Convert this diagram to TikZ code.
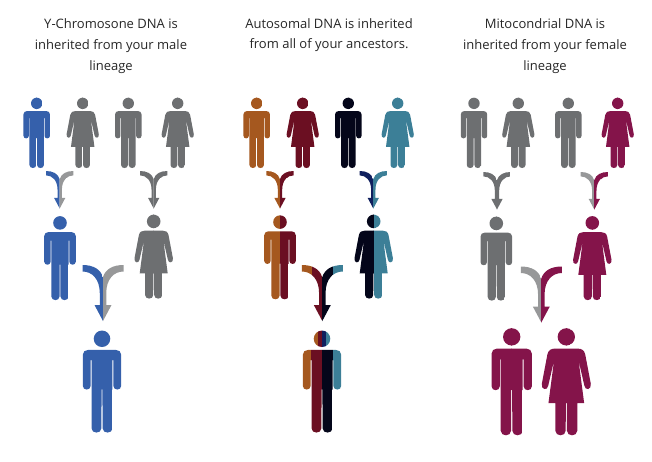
\documentclass[tikz,border=0pt]{standalone}
\usepackage{fontspec}
\setmainfont{Open Sans}
\definecolor{ablue}{HTML}{3560AB}
\definecolor{agrey}{HTML}{6D6F71}
\definecolor{lgrey}{HTML}{979899}
\definecolor{aorange}{HTML}{A5581F}
\definecolor{amaroon}{HTML}{6B0F22}
\definecolor{ablack}{HTML}{04061A}
\definecolor{anavy}{HTML}{10205E}
\definecolor{ateal}{HTML}{3C7F97}
\definecolor{acrimson}{HTML}{84144A}
\newcommand{\manhalf}{(-.6,39) -- (29,39) .. controls (35,39) and (39.5,43) .. (39.5,49) -- (39.5,113) .. controls (39.5,123) and (23.4,123) .. (23.4,113) -- (23.4,60) -- (21.6,60) -- (21.6,200) .. controls (21.6,212) and (1.2,212) .. (1.2,200) -- (.9,120) -- (-.6,120) -- cycle}
\newcommand{\womanhalf}{(-.6,39) -- (22,39) .. controls (30,39) and (35,42) .. (37,50) -- (48,108) .. controls (50,120) and (37,122) .. (35.5,112) -- (24,62) -- (35,146) -- (21.5,146) -- (21.5,200) .. controls (21.5,212) and (1.2,212) .. (1.2,200) -- (.9,146) -- (-.6,146) -- cycle}
\newcommand{\halfband}[4]{%
	\begin{scope}
		\clip #1;
		\fill[#2] (-1,30) rectangle (22,215);
		\fill[#3] (22,30) rectangle (60,215);
	\end{scope}
	\begin{scope}
		\clip (0,16) circle[radius=17];
		\fill[#4] (-1,-2) rectangle (9,36);
		\fill[#3] (9,-2) rectangle (20,36);
	\end{scope}}
\tikzset{
	bands/.code n args={5}{\def\bandA{#1}\def\bandB{#2}\def\bandC{#3}\def\bandD{#4}\def\bandH{#5}},
	onecol/.style={bands={#1}{#1}{#1}{#1}{#1}},
	twocol/.style 2 args={bands={#1}{#1}{#2}{#2}{#2}},
	arrowcols/.code n args={4}{\def\arrA{#1}\def\arrB{#2}\def\arrC{#3}\def\arrD{#4}},
	arrowone/.style={arrowcols={#1}{#1}{#1}{#1}},
	arrowtwo/.style 2 args={arrowcols={#1}{#1}{#2}{#2}},
	pics/manfig/.style={code={
		\halfband{\manhalf}{\bandC}{\bandD}{\bandH}
		\begin{scope}[xscale=-1]
			\halfband{\manhalf}{\bandB}{\bandA}{\bandB}
		\end{scope}
	}},
	pics/womanfig/.style={code={
		\halfband{\womanhalf}{\bandC}{\bandD}{\bandH}
		\begin{scope}[xscale=-1]
			\halfband{\womanhalf}{\bandB}{\bandA}{\bandB}
		\end{scope}
	}},
	pics/mergearrow/.style={code={
		\coordinate (-tip) at (0,112);
		\begin{scope}
			\clip (-.5,24) .. controls (-5,8) and (-20,0) .. (-41,0) -- (-41,13) .. controls (-22,13) and (-6.5,28) .. (-6.5,56) -- (-6.5,80) -- (-17,80) -- (-tip) -- (-.5,112) -- cycle;
			\fill[\arrB] (-21,-1) rectangle (0,113);
			\fill[\arrA] (-21,-1) rectangle (-42,113);
		\end{scope}
		\begin{scope}
			\clip (-.5,24) -- (0,24) .. controls (5,8) and (20,0) .. (41,0) -- (41,13) .. controls (22,13) and (6.5,28) .. (6.5,56) -- (6.5,80) -- (17,80) -- (-tip) -- (-.5,112) -- cycle;
			\fill[\arrC] (-1,-1) rectangle (21,113);
			\fill[\arrD] (21,-1) rectangle (42,113);
		\end{scope}
	}},
	caption/.style={align=center,font=\fontsize{13}{20.7}\selectfont,text=black!85},
}
\begin{document}
\begin{tikzpicture}[x=1pt,y=-1pt]
	\useasboundingbox (0,0) rectangle (652,462);
	\node[caption] (ycap) at (111,46) {Y-Chromosone DNA is\\inherited from your male\\lineage};
	\node[caption,anchor=north] (acap) at (329,14.8) {Autosomal DNA is inherited\\from all of your ancestors.};
	\node[caption] (mcap) at (545,46) {Mitocondrial DNA is\\inherited from your female\\lineage};

	% male line
	\pic[onecol=ablue,scale=.335] (y1) at (36.7,98) {manfig};
	\pic[onecol=agrey,scale=.335] (y2) at (82.7,98) {womanfig};
	\pic[onecol=agrey,scale=.335] (y3) at (128.3,98) {manfig};
	\pic[onecol=agrey,scale=.335] (y4) at (177.7,98) {womanfig};
	\pic[arrowtwo={ablue}{lgrey},scale=.335] (ya1) at (59.7,171) {mergearrow};
	\pic[arrowone=agrey,scale=.335] (ya2) at (153.7,171) {mergearrow};
	\pic[onecol=ablue,scale=.4] (y5) at (60,216.5) {manfig};
	\pic[onecol=agrey,scale=.4] (y6) at (153.7,215) {womanfig};
	\pic[arrowtwo={ablue}{lgrey},scale=.5] (ya3) at (103,265) {mergearrow};
	\pic[onecol=ablue,scale=.486] (y7) at (102,331) {manfig};

	% all lines
	\pic[onecol=aorange,scale=.335] (a1) at (256.7,98) {manfig};
	\pic[onecol=amaroon,scale=.335] (a2) at (302.7,98) {womanfig};
	\pic[onecol=ablack,scale=.335] (a3) at (348.3,98) {manfig};
	\pic[onecol=ateal,scale=.335] (a4) at (397.7,98) {womanfig};
	\pic[arrowtwo={aorange}{amaroon},scale=.335] (aa1) at (280,171) {mergearrow};
	\pic[arrowtwo={anavy}{ateal},scale=.335] (aa2) at (373.3,171) {mergearrow};
	\pic[twocol={aorange}{amaroon},scale=.4] (a5) at (280,215.7) {manfig};
	\pic[twocol={ablack}{ateal},scale=.4] (a6) at (373.7,215) {womanfig};
	\pic[arrowcols={aorange}{amaroon}{ablack}{ateal},scale=.5] (aa3) at (322.3,265) {mergearrow};
	\pic[bands={aorange}{amaroon}{ablack}{ateal}{anavy},scale=.486] (a7) at (322,331) {manfig};

	% female line
	\pic[onecol=agrey,scale=.335] (m1) at (474,98) {manfig};
	\pic[onecol=agrey,scale=.335] (m2) at (518.3,98) {womanfig};
	\pic[onecol=agrey,scale=.335] (m3) at (568.3,98) {manfig};
	\pic[onecol=acrimson,scale=.335] (m4) at (617.7,98) {womanfig};
	\pic[arrowone=agrey,scale=.335] (ma1) at (497,172) {mergearrow};
	\pic[arrowtwo={lgrey}{acrimson},scale=.335] (ma2) at (594.3,172) {mergearrow};
	\pic[onecol=agrey,scale=.4] (m5) at (496.3,217) {manfig};
	\pic[onecol=acrimson,scale=.4] (m6) at (592.3,216.5) {womanfig};
	\pic[arrowtwo={lgrey}{acrimson},scale=.5] (ma3) at (541.3,266.5) {mergearrow};
	\pic[onecol=acrimson,scale=.51] (m7) at (511.7,328.7) {manfig};
	\pic[onecol=acrimson,scale=.51] (m8) at (566.3,328.7) {womanfig};
\end{tikzpicture}
\end{document}
